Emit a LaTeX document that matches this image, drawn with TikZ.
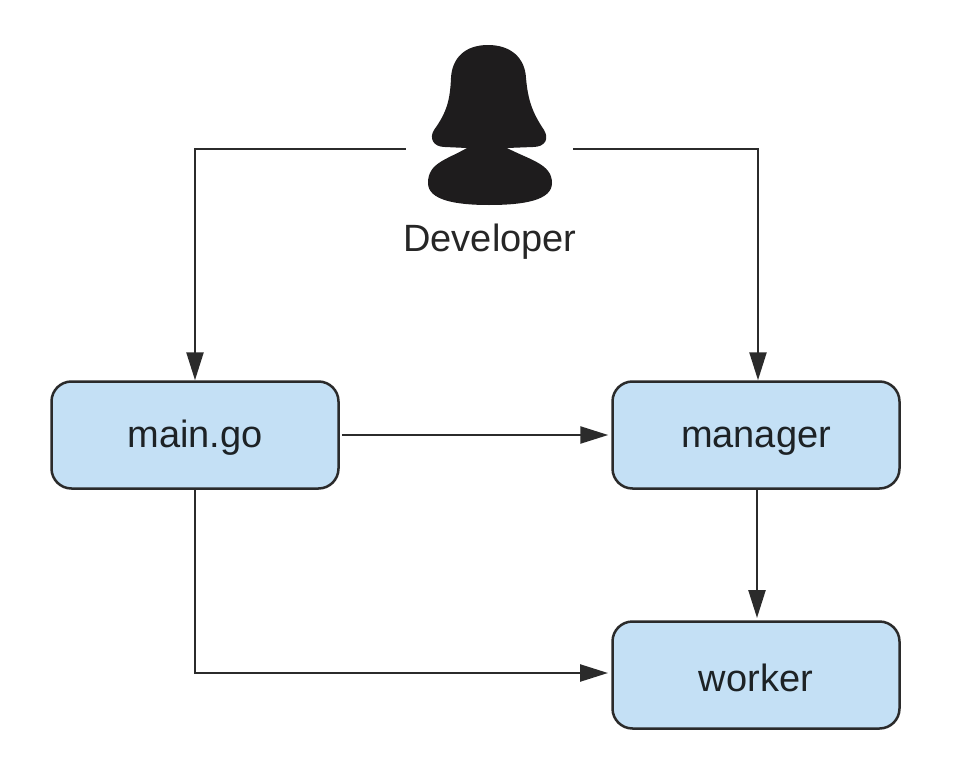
\documentclass[tikz,border=0pt]{standalone}
\usepackage{fontspec}
\setmainfont{Liberation Sans}
\usetikzlibrary{arrows.meta,calc}
\definecolor{boxfill}{HTML}{C4E0F5}
\definecolor{ink}{HTML}{2B2B2B}
\definecolor{figure}{HTML}{1E1C1D}
\tikzset{
  x=1pt,y=-1pt,
  procbox/.style={draw=ink,fill=boxfill,line width=2.5pt,rounded corners=20pt,minimum width=287pt,minimum height=107pt,inner sep=0pt,text=black!85!boxfill,font=\fontsize{38}{40}\selectfont,text height=28pt,text depth=4pt},
  conn/.style={draw=ink,line width=2.4pt,-{Triangle[length=28pt,width=17pt]}},
  devlabel/.style={font=\fontsize{38}{40}\selectfont,text=black!85,inner sep=0pt},
}
\begin{document}
\begin{tikzpicture}
\useasboundingbox (0,0) rectangle (954,771);
\node[procbox] (main) at (195,435) {main.go};
\node[procbox] (manager) at (756,435) {manager};
\node[procbox,text height=34pt,text depth=2pt] (worker) at (756,675) {worker};
\node[devlabel] (dev) at (490,241.5) {Developer};
\node[minimum width=167pt,minimum height=2pt,inner sep=0pt] (person) at (489.5,149) {};
% silhouette
\fill[figure] (488,45)
  .. controls (465,45) and (452,58) .. (451,78)
  .. controls (450,100) and (447,112) .. (434,130)
  .. controls (429,138) and (433,147) .. (445,147)
  -- (467,148)
  .. controls (446,160) and (428,163) .. (428,183)
  .. controls (428,200) and (455,205) .. (489,205)
  .. controls (525,205) and (552,200) .. (552,183)
  .. controls (552,164) and (530,160) .. (507,148)
  -- (533,147)
  .. controls (546,147) and (549,138) .. (544,130)
  .. controls (532,112) and (528,100) .. (526,78)
  .. controls (525,58) and (511,45) .. (488,45) -- cycle;
\coordinate (leftturn) at (195,149);
\coordinate (rightturn) at (758,149);
\coordinate (lowturn) at (195,673);
\draw[conn] (person.west) -- (leftturn) -- (leftturn |- main.north);
\draw[conn] (person.east) -- (rightturn) -- (rightturn |- manager.north);
\draw[conn] ([xshift=2pt]main.east) -- ([xshift=-3pt]manager.west);
\coordinate (downstart) at (757,490);
\coordinate (downend) at (757,618);
\coordinate (lowend) at (608,673);
\draw[conn] (downstart) -- (downend);
\draw[conn] (lowturn |- main.south) -- (lowturn) -- (lowend);
\end{tikzpicture}
\end{document}
